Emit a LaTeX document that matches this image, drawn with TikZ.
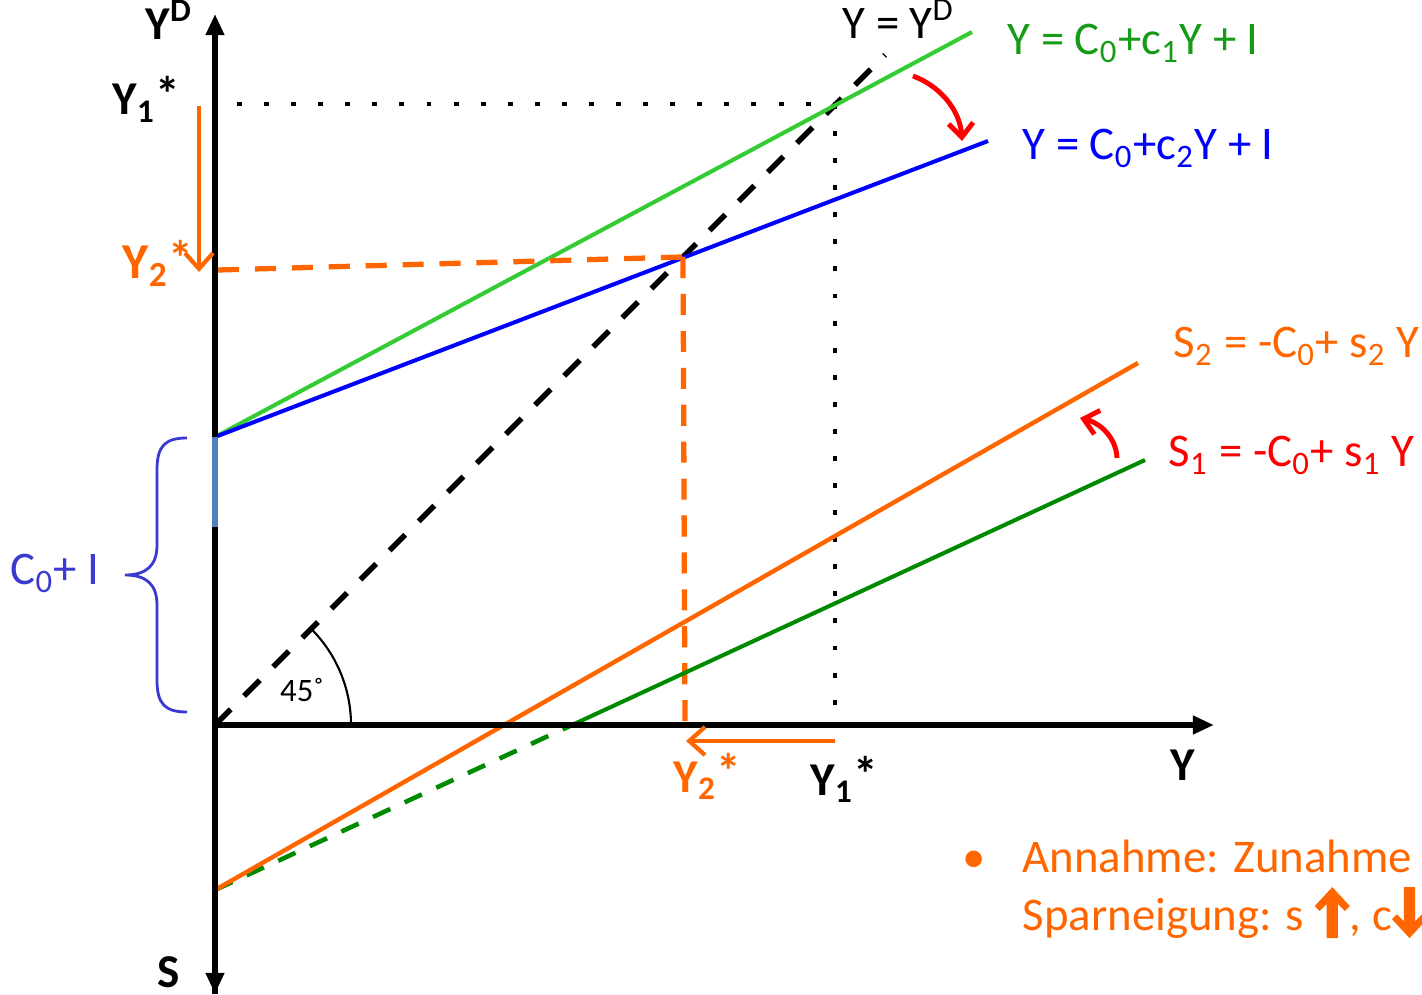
\documentclass[tikz,border=0pt]{standalone}
\usepackage{fontspec}
\setmainfont{Carlito}
\usetikzlibrary{arrows.meta}
\definecolor{lgreen}{HTML}{33CC33}
\definecolor{tgreen}{HTML}{159B15}
\definecolor{dgreen}{HTML}{008A00}
\definecolor{myblue}{HTML}{0000FF}
\definecolor{orng}{HTML}{FF6600}
\definecolor{braceblue}{HTML}{3A3AD0}
\definecolor{steel}{HTML}{4F81BD}
\newcommand{\myuparrow}{\tikz[baseline=0pt,x=1pt,y=1pt]\fill[orng] (-5,6.8) -- (0,12.2) -- (5,6.8) -- (3.6,5.4) -- (1.6,7.4) -- (1.6,-2.3) -- (-1.6,-2.3) -- (-1.6,7.4) -- (-3.6,5.4) -- cycle;}
\newcommand{\mydownarrow}{\tikz[baseline=0pt,x=1pt,y=1pt]\fill[orng] (-5,3.1) -- (0,-2.3) -- (5,3.1) -- (3.6,4.5) -- (1.6,2.5) -- (1.6,12.2) -- (-1.6,12.2) -- (-1.6,2.5) -- (-3.6,4.5) -- cycle;}
\newcommand{\mystar}{\raisebox{0.15ex}{\fontsize{14}{14}\selectfont *}}
\tikzset{
  lab/.style={inner sep=0pt, anchor=base west, font=\fontsize{13.3}{15}\selectfont},
  bl/.style={inner sep=0pt, anchor=base west, font=\fontsize{13.4}{15}\selectfont\bfseries},
  axis/.style={line width=1.5pt, black},
  tri/.style={-{Triangle[length=6pt,width=5pt]}},
  dotline/.style={line width=1.4pt, dash pattern=on 1.4pt off 6.3pt},
  dash45/.style={line width=1.6pt, dash pattern=on 6.3pt off 5.4pt},
  odash/.style={line width=1.5pt, orng, dash pattern=on 6pt off 4.5pt},
  gdash/.style={line width=1.3pt, dgreen, dash pattern=on 5.4pt off 4.5pt},
  fline/.style={line width=1.15pt},
  oarrow/.style={line width=1.2pt, orng, -{Straight Barb[length=4.5pt,width=8pt,line width=1.2pt]}},
  rarrow/.style={line width=1.4pt, red, -{Straight Barb[length=4pt,width=7pt,line width=1.4pt]}},
}
\begin{document}
\begin{tikzpicture}[x=0.01cm,y=-0.01cm]
\useasboundingbox (0,0) rectangle (1422,995);
% coordinates
\coordinate (O) at (215,725);
\coordinate (ytop) at (215,14);
\coordinate (ybot) at (215,994);
\coordinate (xend) at (1214,725);
\coordinate (A) at (215,437);
\coordinate (Asteel) at (215,527);
\coordinate (G1) at (972,32);
\coordinate (B1) at (988,141);
\coordinate (E2) at (683,257);
\coordinate (E2b) at (685,725);
\coordinate (E2l) at (218,270);
\coordinate (E1) at (835,104);
\coordinate (E1l) at (237,104);
\coordinate (E1b) at (835,718);
\coordinate (D45) at (885,55);
\coordinate (S0) at (215,890);
\coordinate (S2e) at (1138,363);
\coordinate (S1x) at (572,725);
\coordinate (S1e) at (1145,460);
\coordinate (AR1s) at (199,106);
\coordinate (AR1e) at (199,272);
\coordinate (AR2s) at (835,741);
\coordinate (AR2e) at (686,741);
\coordinate (RA1s) at (913,76);
\coordinate (RA1e) at (962,141);
\coordinate (RA2s) at (1117,458);
\coordinate (RA2e) at (1080,418);
\coordinate (arcA) at (351,725);

% dotted guides
\draw[dotline] (E1l) -- (E1);
\draw[dotline] (E1) -- (E1b);
% 45 degree line
\draw[dash45] (O) -- (D45);
% angle arc
\draw[line width=0.6pt] (arcA) arc[start angle=0, end angle=-44, radius=136];
\node[inner sep=0pt, font=\fontsize{9.3}{10}\selectfont] (ang) at (302,690) {45˚};
% demand lines
\draw[fline, lgreen] (A) -- (G1);
\draw[fline, myblue] (A) -- (B1);
% orange dashed guides
\draw[odash] (E2l) -- (E2);
\draw[odash] (E2) -- (E2b);
% savings lines
\draw[gdash] (S0) -- (S1x);
\draw[fline, dgreen] (S1x) -- (S1e);
\draw[fline, orng, line width=1.25pt] (S0) -- (S2e);
% axes
\draw[axis, tri] (ybot) -- (ytop);
\draw[axis, tri] (A) -- (ybot);
\draw[axis, tri] (O) -- (xend);
\draw[line width=1.6pt, steel] (A) -- (Asteel);
% orange arrows
\draw[oarrow] (AR1s) -- (AR1e);
\draw[oarrow] (AR2s) -- (AR2e);
% red arrows
\draw[rarrow] (RA1s) .. controls (940,86) and (960,110) .. (RA1e);
\draw[rarrow] (RA2s) .. controls (1116,437) and (1100,423) .. (RA2e);
% brace
\draw[braceblue, line width=0.8pt] (187,438) .. controls (165,438) and (157,446) .. (157,470) -- (157,545) .. controls (157,566) and (146,575) .. (125,575) .. controls (146,575) and (157,584) .. (157,605) -- (157,680) .. controls (157,704) and (165,712) .. (187,712);

% labels
\node[bl] (lyd) at (145,40) {Y\textsuperscript{D}};
\node[bl] (ly1) at (112,115) {Y\textsubscript{1}\mystar};
\node[bl, orng, font=\fontsize{14.3}{16}\selectfont\bfseries] (ly2) at (122,279) {Y\textsubscript{2}\mystar};
\node[bl, orng] (lx2) at (673,792) {Y\textsubscript{2}\mystar};
\node[bl] (lx1) at (810,795) {Y\textsubscript{1}\mystar};
\node[bl] (lY) at (1170,780) {Y};
\node[bl] (lS) at (157,987) {S};
\node[lab] (l45) at (842,39) {Y = Y\textsuperscript{D}};
\node[lab, tgreen] (lg) at (1007,55) {Y = C\textsubscript{0}+c\textsubscript{1}Y + I};
\node[lab, myblue] (lb) at (1022,160) {Y = C\textsubscript{0}+c\textsubscript{2}Y + I};
\node[lab, orng] (ls2) at (1173,358) {S\textsubscript{2} = -C\textsubscript{0}+ s\textsubscript{2} Y};
\node[lab, red] (ls1) at (1168,467) {S\textsubscript{1} = -C\textsubscript{0}+ s\textsubscript{1} Y};
\node[lab, braceblue] (lc) at (10,585) {C\textsubscript{0}+ I};
\node[lab, orng] (bul) at (962,872) {•};
\node[lab, orng] (t1) at (1022,872) {Annahme: Zunahme};
\node[lab, orng] (t2) at (1022,930) {Sparneigung: s \myuparrow, c\mydownarrow};
\end{tikzpicture}
\end{document}
